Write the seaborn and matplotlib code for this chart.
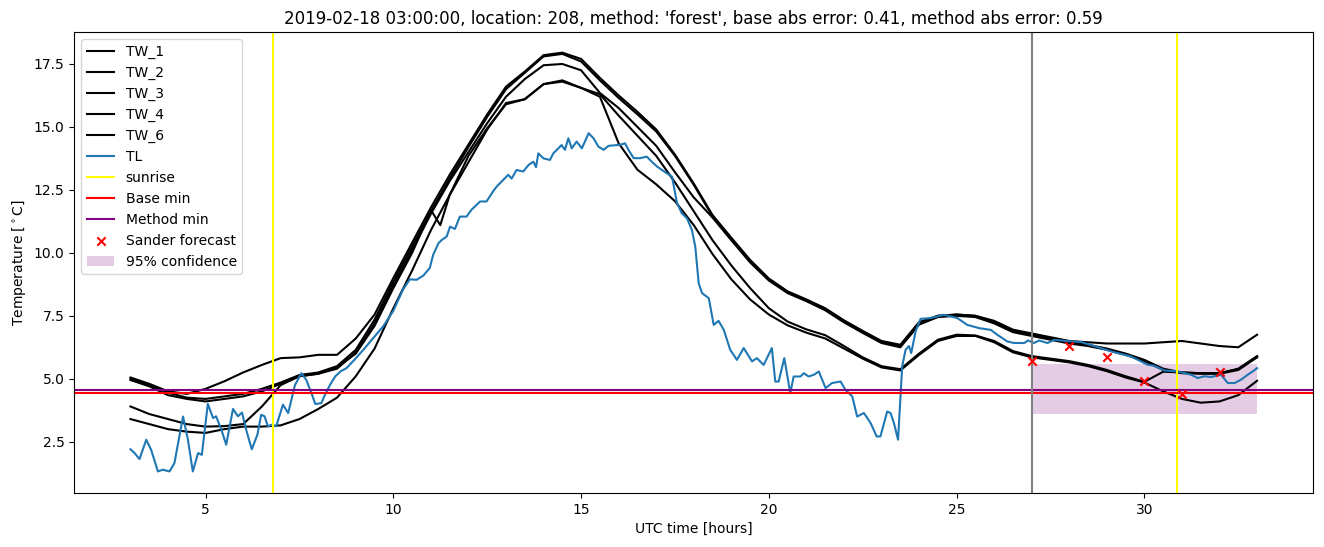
import numpy as np
import pandas as pd
import matplotlib
matplotlib.use("Agg")
import matplotlib.pyplot as plt
import seaborn as sns

# ---------------- data ----------------
t_tw = [3.0, 3.5, 4.0, 4.5, 5.0, 5.5, 6.0, 6.5, 7.0, 7.5, 8.0, 8.5, 9.0, 9.5, 10.0, 10.5,
        11.0, 11.25, 11.5, 12.0, 12.5, 13.0, 13.5, 14.0, 14.5, 15.0, 15.5, 16.0, 16.5, 17.0,
        17.5, 18.0, 18.5, 19.0, 19.5, 20.0, 20.5, 21.0, 21.5, 22.0, 22.5, 23.0, 23.5, 24.0,
        24.5, 25.0, 25.5, 26.0, 26.5, 27.0, 27.5, 28.0, 28.5, 29.0, 29.5, 30.0, 30.5, 31.0,
        31.5, 32.0, 32.5, 33.0]

tw_1 = [5.05, 4.8, 4.5, 4.4, 4.6, 4.9, 5.25, 5.55, 5.82, 5.85, 5.95, 5.95, 6.6, 7.55, 9.0, 10.4,
        11.8, 12.45, 13.1, 14.3, 15.5, 16.6, 17.2, 17.85, 17.95, 17.7, 16.95, 16.25, 15.6, 14.9,
        13.9, 12.75, 11.5, 10.6, 9.72, 8.98, 8.47, 8.15, 7.8, 7.32, 6.9, 6.5, 6.35, 7.25,
        7.5, 7.55, 7.5, 7.3, 6.95, 6.8, 6.65, 6.5, 6.45, 6.4, 6.4, 6.4, 6.45, 6.5,
        6.4, 6.3, 6.25, 6.75]
tw_2 = [5.0, 4.75, 4.45, 4.25, 4.2, 4.3, 4.4, 4.6, 4.85, 5.15, 5.25, 5.5, 6.15, 7.35, 8.85, 10.25,
        11.65, 12.3, 12.95, 14.2, 15.4, 16.5, 17.15, 17.8, 17.9, 17.6, 16.85, 16.15, 15.5, 14.82,
        13.85, 12.7, 11.45, 10.55, 9.68, 8.94, 8.44, 8.12, 7.76, 7.28, 6.86, 6.46, 6.3, 7.2,
        7.5, 7.55, 7.5, 7.25, 6.9, 6.75, 6.6, 6.45, 6.35, 6.2, 6.0, 5.75, 5.4, 5.25,
        5.22, 5.22, 5.4, 5.9]
tw_3 = [4.95, 4.7, 4.35, 4.2, 4.1, 4.2, 4.3, 4.5, 4.8, 5.1, 5.2, 5.4, 6.05, 7.2, 8.7, 10.1,
        11.55, 12.2, 12.85, 14.0, 15.15, 16.2, 16.9, 17.45, 17.5, 17.25, 16.35, 15.75, 15.0, 14.25,
        13.2, 12.2, 11.4, 10.5, 9.62, 8.9, 8.4, 8.08, 7.72, 7.24, 6.82, 6.42, 6.25, 7.15,
        7.45, 7.5, 7.45, 7.2, 6.85, 6.7, 6.55, 6.4, 6.3, 6.15, 5.95, 5.7, 5.35, 5.22,
        5.2, 5.2, 5.35, 5.85]
tw_4 = [3.9, 3.6, 3.4, 3.2, 3.1, 3.12, 3.2, 3.9, 4.75, 5.1, 5.2, 5.45, 6.0, 7.1, 8.6, 10.0,
        11.7, 11.1, 12.3, 13.6, 14.9, 15.95, 16.1, 16.7, 16.85, 16.55, 16.3, 15.45, 14.65, 13.85,
        12.8, 11.65, 10.5, 9.5, 8.6, 7.8, 7.27, 6.96, 6.73, 6.3, 5.85, 5.5, 5.38, 6.0,
        6.55, 6.75, 6.72, 6.5, 6.1, 5.9, 5.8, 5.7, 5.55, 5.35, 5.1, 4.88, 5.28, 5.25,
        5.22, 5.22, 5.38, 5.88]
tw_6 = [3.4, 3.2, 3.0, 2.9, 2.85, 3.0, 3.1, 3.1, 3.15, 3.4, 3.8, 4.25, 5.1, 6.2, 7.8, 9.3,
        10.9, 11.6, 12.3, 13.85, 14.95, 15.9, 16.1, 16.7, 16.8, 16.55, 16.2, 14.35, 13.3, 12.72,
        12.05, 11.1, 9.95, 8.95, 8.15, 7.55, 7.12, 6.83, 6.6, 6.2, 5.8, 5.45, 5.33, 5.95,
        6.5, 6.7, 6.7, 6.45, 6.05, 5.85, 5.75, 5.65, 5.5, 5.3, 5.05, 4.85, 4.5, 4.2,
        4.05, 4.1, 4.35, 4.92]

tl_t = [3.0, 3.11, 3.24, 3.42, 3.55, 3.73, 3.86, 4.04, 4.17, 4.4, 4.53, 4.66, 4.8, 4.9, 5.06,
        5.2, 5.28, 5.42, 5.55, 5.73, 5.86, 5.97, 6.08, 6.23, 6.38, 6.48, 6.57, 6.66, 6.75, 6.88,
        7.06, 7.2, 7.38, 7.55, 7.68, 7.82, 7.92, 8.08, 8.2, 8.33, 8.45, 8.6, 8.75, 8.93, 9.2,
        9.46, 9.73, 10.0, 10.26, 10.44, 10.62, 10.8, 10.97, 11.06, 11.2, 11.28, 11.42, 11.51,
        11.64, 11.77, 11.95, 12.08, 12.31, 12.48, 12.66, 12.75, 12.93, 13.06, 13.15, 13.28,
        13.46, 13.6, 13.73, 13.8, 13.86, 14.0, 14.17, 14.26, 14.48, 14.57, 14.66, 14.75, 14.88,
        15.02, 15.2, 15.33, 15.46, 15.6, 15.73, 16.04, 16.17, 16.26, 16.4, 16.57, 16.75, 16.88,
        17.02, 17.28, 17.42, 17.55, 17.68, 17.82, 17.95, 18.04, 18.13, 18.22, 18.4, 18.53,
        18.66, 18.8, 18.97, 19.15, 19.33, 19.55, 19.68, 19.86, 20.08, 20.17, 20.26, 20.41,
        20.57, 20.66, 20.84, 20.93, 21.06, 21.2, 21.33, 21.51, 21.68, 21.91, 22.04, 22.22,
        22.35, 22.53, 22.71, 22.87, 22.97, 23.15, 23.24, 23.33, 23.44, 23.55, 23.64, 23.73,
        23.79, 23.91, 24.04, 24.3, 24.66, 25.02, 25.28, 25.6, 25.91, 26.08, 26.35, 26.53,
        26.8, 26.9, 27.06, 27.2, 27.42, 27.6, 27.9, 28.31, 28.66, 29.2, 29.64, 30.08, 30.25,
        30.53, 30.88, 31.24, 31.42, 31.6, 31.77, 32.04, 32.22, 32.4, 32.57, 32.75, 32.88, 33.0]
tl_v = [2.2, 2.05, 1.81, 2.58, 2.18, 1.32, 1.39, 1.32, 1.65, 3.5, 2.58, 1.32, 2.05, 1.98, 4.0,
        3.44, 3.51, 2.98, 2.38, 3.8, 3.51, 3.66, 2.98, 2.2, 2.78, 3.57, 3.51, 3.11, 3.17, 3.11,
        3.97, 3.64, 4.75, 5.22, 4.96, 4.43, 4.0, 4.03, 4.43, 4.8, 5.09, 5.3, 5.42, 5.7, 6.15,
        6.61, 7.08, 7.7, 8.55, 8.95, 8.93, 9.1, 9.4, 9.92, 10.38, 10.5, 10.65, 11.04,
        10.95, 11.44, 11.44, 11.71, 12.04, 12.04, 12.45, 12.63, 12.9, 13.1, 12.95, 13.29,
        13.23, 13.49, 13.62, 13.4, 13.95, 13.75, 13.69, 13.95, 14.28, 14.09, 14.55, 14.15, 14.42,
        14.15, 14.75, 14.55, 14.22, 14.09, 14.25, 14.29, 14.35, 14.09, 13.76, 13.76, 13.82, 13.62,
        13.43, 13.16, 13.03, 12.0, 11.57, 11.37, 10.91, 10.25, 8.8, 8.4, 8.2, 7.14,
        7.3, 6.94, 6.15, 5.75, 6.22, 5.69, 5.82, 5.55, 6.22, 4.89, 4.89, 5.82,
        4.43, 5.09, 5.09, 5.22, 5.09, 5.16, 5.29, 4.63, 4.83, 4.89, 4.56, 4.3,
        3.5, 3.64, 3.24, 2.71, 2.71, 3.7, 3.64, 3.24, 2.58, 5.5, 6.15, 6.3,
        6.02, 6.9, 7.38, 7.41, 7.54, 7.41, 7.14, 7.01, 6.94, 6.75, 6.48, 6.42,
        6.42, 6.52, 6.42, 6.52, 6.42, 6.55, 6.5, 6.46, 6.3, 6.05, 5.89, 5.56, 5.52,
        5.33, 5.29, 5.16, 5.03, 5.1, 5.07, 5.16, 4.83, 4.83, 4.96, 5.16, 5.29, 5.42]

sander_t = [27, 28, 29, 30, 31, 32]
sander_v = [5.7, 6.3, 5.85, 4.9, 4.4, 5.25]

conf_t = [27.0, 33.0]
conf_lo = [3.6, 3.6]
conf_hi = [5.6, 5.6]

sunrise = [6.8, 30.87]
forecast_start = 27.0
base_min = 4.43
method_min = 4.57

tw_names = ["TW_1", "TW_2", "TW_3", "TW_4", "TW_6"]
tw_series = [tw_1, tw_2, tw_3, tw_4, tw_6]

title = ("2019-02-18 03:00:00, location: 208, method: 'forest', "
         "base abs error: 0.41, method abs error: 0.59")

# ---------------- plot ----------------
fig = plt.figure(figsize=(13.24, 5.47), dpi=100)
ax = fig.add_axes([0.056, 0.099, 0.936, 0.8425])

handles = []
for name, vals in zip(tw_names, tw_series):
    df = pd.DataFrame({"t": t_tw, "v": vals})
    sns.lineplot(data=df, x="t", y="v", color="black", label=name, ax=ax,
                 linewidth=1.5, sort=False)
    handles.append(ax.lines[-1])

df_tl = pd.DataFrame({"t": tl_t, "v": tl_v})
sns.lineplot(data=df_tl, x="t", y="v", color="#1f77b4", label="TL", ax=ax,
             linewidth=1.5, sort=False)
handles.append(ax.lines[-1])

h = ax.axvline(sunrise[0], color="yellow", label="sunrise")
handles.append(h)
ax.axvline(sunrise[1], color="yellow")
h = ax.axhline(base_min, color="red", label="Base min")
handles.append(h)
h = ax.axhline(method_min, color="purple", label="Method min")
handles.append(h)
ax.axvline(forecast_start, color="gray")

sns.scatterplot(x=sander_t, y=sander_v, marker="x", color="red", s=36,
                linewidth=1.5, label="Sander forecast", ax=ax, zorder=3)
handles.append(ax.collections[-1])

h = ax.fill_between(conf_t, conf_lo, conf_hi, color="purple", alpha=0.2,
                    linewidth=0, label="95% confidence")
handles.append(h)

ax.set_xlim(1.5, 34.5)
ax.set_ylim(0.47, 18.77)
ax.set_xlabel("UTC time [hours]")
ax.set_ylabel(r"Temperature [$^\circ$C]")
ax.set_title(title)
ax.legend(handles=handles, labels=[hh.get_label() for hh in handles], loc="upper left")

fig.savefig("out.png", dpi=100)
